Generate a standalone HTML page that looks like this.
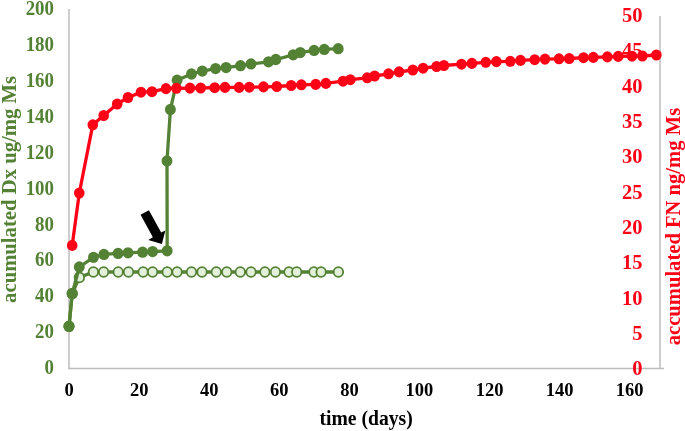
<!DOCTYPE html>
<html><head><meta charset="utf-8"><style>
html,body{margin:0;padding:0;background:#fff;}
svg{display:block;will-change:transform;}
text{font-family:"Liberation Serif",serif;font-weight:bold;}
</style></head><body>
<svg width="685" height="431" viewBox="0 0 685 431">
<rect width="685" height="431" fill="#fff"/>

<g fill="none">
<line x1="69" y1="9" x2="69" y2="368.4" stroke="#cbcbcb" stroke-width="1.9"/>
<line x1="660" y1="16" x2="660" y2="368.4" stroke="#cbcbcb" stroke-width="1.9"/>
<line x1="68.05" y1="368.45" x2="664" y2="368.45" stroke="#bdbdbd" stroke-width="1.6"/>
</g>
<g fill="#548235" font-size="20" text-anchor="end">
<text transform="translate(54.0,374.10) scale(0.945,1)">0</text>
<text transform="translate(54.0,338.20) scale(0.945,1)">20</text>
<text transform="translate(54.0,302.30) scale(0.945,1)">40</text>
<text transform="translate(54.0,266.40) scale(0.945,1)">60</text>
<text transform="translate(54.0,230.50) scale(0.945,1)">80</text>
<text transform="translate(54.0,194.60) scale(0.945,1)">100</text>
<text transform="translate(54.0,158.70) scale(0.945,1)">120</text>
<text transform="translate(54.0,122.80) scale(0.945,1)">140</text>
<text transform="translate(54.0,86.90) scale(0.945,1)">160</text>
<text transform="translate(54.0,51.00) scale(0.945,1)">180</text>
<text transform="translate(54.0,15.10) scale(0.945,1)">200</text>
</g>
<g fill="#000" font-size="19.6" text-anchor="middle">
<text transform="translate(69.15,396.45) scale(0.945,1)">0</text>
<text transform="translate(139.21,396.45) scale(0.945,1)">20</text>
<text transform="translate(209.27,396.45) scale(0.945,1)">40</text>
<text transform="translate(279.33,396.45) scale(0.945,1)">60</text>
<text transform="translate(349.39,396.45) scale(0.945,1)">80</text>
<text transform="translate(419.45,396.45) scale(0.945,1)">100</text>
<text transform="translate(489.51,396.45) scale(0.945,1)">120</text>
<text transform="translate(559.57,396.45) scale(0.945,1)">140</text>
<text transform="translate(629.63,396.45) scale(0.945,1)">160</text>
</g>
<text transform="translate(366.1,424.5) scale(0.955,1)" font-size="20.6" text-anchor="middle" fill="#000">time (days)</text>
<text transform="translate(16,189.4) rotate(-90)" font-size="20.7" text-anchor="middle" fill="#548235">acumulated Dx ug/mg Ms</text>
<text transform="translate(679.5,226.55) rotate(-90)" font-size="20.6" text-anchor="middle" fill="#ff0016">accumulated FN ng/mg Ms</text>
<polyline points="69.0,326.3 72.2,293.6 79.4,277.4 93.4,272.0 103.6,272.0 118.2,272.0 128.5,272.0 143.1,272.0 152.6,272.0 167.2,272.0 177.1,272.0 191.5,272.0 202.0,272.0 216.3,272.0 226.8,272.0 240.3,272.0 251.0,272.0 264.9,272.0 275.4,272.0 289.0,272.0 296.7,272.0 313.9,272.0 321.1,272.0 338.4,272.0" fill="none" stroke="#548235" stroke-width="3.3" stroke-linejoin="round"/>
<g fill="#e2f0d9" stroke="#548235" stroke-width="1.85">
<ellipse cx="69" cy="326.3" rx="4.75" ry="4.9"/>
<ellipse cx="72.2" cy="293.6" rx="4.75" ry="4.9"/>
<ellipse cx="79.4" cy="277.4" rx="4.75" ry="4.9"/>
<ellipse cx="93.4" cy="272.0" rx="4.75" ry="4.9"/>
<ellipse cx="103.6" cy="272.0" rx="4.75" ry="4.9"/>
<ellipse cx="118.2" cy="272.0" rx="4.75" ry="4.9"/>
<ellipse cx="128.5" cy="272.0" rx="4.75" ry="4.9"/>
<ellipse cx="143.1" cy="272.0" rx="4.75" ry="4.9"/>
<ellipse cx="152.6" cy="272.0" rx="4.75" ry="4.9"/>
<ellipse cx="167.2" cy="272.0" rx="4.75" ry="4.9"/>
<ellipse cx="177.1" cy="272.0" rx="4.75" ry="4.9"/>
<ellipse cx="191.5" cy="272.0" rx="4.75" ry="4.9"/>
<ellipse cx="202" cy="272.0" rx="4.75" ry="4.9"/>
<ellipse cx="216.3" cy="272.0" rx="4.75" ry="4.9"/>
<ellipse cx="226.8" cy="272.0" rx="4.75" ry="4.9"/>
<ellipse cx="240.3" cy="272.0" rx="4.75" ry="4.9"/>
<ellipse cx="251" cy="272.0" rx="4.75" ry="4.9"/>
<ellipse cx="264.9" cy="272.0" rx="4.75" ry="4.9"/>
<ellipse cx="275.4" cy="272.0" rx="4.75" ry="4.9"/>
<ellipse cx="289" cy="272.0" rx="4.75" ry="4.9"/>
<ellipse cx="296.7" cy="272.0" rx="4.75" ry="4.9"/>
<ellipse cx="313.9" cy="272.0" rx="4.75" ry="4.9"/>
<ellipse cx="321.1" cy="272.0" rx="4.75" ry="4.9"/>
<ellipse cx="338.4" cy="272.0" rx="4.75" ry="4.9"/>
</g>
<polyline points="69.0,326.3 72.2,293.6 79.3,267.0 93.5,257.3 103.9,254.4 118.1,253.4 128.0,252.8 142.6,252.2 152.6,251.6 167.2,250.8 167.0,161.0 170.4,109.5 177.1,80.2 191.5,74.0 202.3,71.1 215.6,68.6 226.1,67.6 240.5,65.7 251.0,63.9 268.5,61.8 275.8,59.5 293.2,54.8 300.3,52.6 314.1,50.4 324.3,49.4 338.2,48.7" fill="none" stroke="#548235" stroke-width="3.3" stroke-linejoin="round"/>
<g fill="#548235">
<ellipse cx="69" cy="326.3" rx="5.45" ry="5.65"/>
<ellipse cx="72.2" cy="293.6" rx="5.45" ry="5.65"/>
<ellipse cx="79.3" cy="267" rx="5.45" ry="5.65"/>
<ellipse cx="93.5" cy="257.3" rx="5.45" ry="5.65"/>
<ellipse cx="103.9" cy="254.4" rx="5.45" ry="5.65"/>
<ellipse cx="118.1" cy="253.4" rx="5.45" ry="5.65"/>
<ellipse cx="128" cy="252.8" rx="5.45" ry="5.65"/>
<ellipse cx="142.6" cy="252.2" rx="5.45" ry="5.65"/>
<ellipse cx="152.6" cy="251.6" rx="5.45" ry="5.65"/>
<ellipse cx="167.2" cy="250.8" rx="5.45" ry="5.65"/>
<ellipse cx="167" cy="161" rx="5.45" ry="5.65"/>
<ellipse cx="170.4" cy="109.5" rx="5.45" ry="5.65"/>
<ellipse cx="177.1" cy="80.2" rx="5.45" ry="5.65"/>
<ellipse cx="191.5" cy="74" rx="5.45" ry="5.65"/>
<ellipse cx="202.3" cy="71.1" rx="5.45" ry="5.65"/>
<ellipse cx="215.6" cy="68.6" rx="5.45" ry="5.65"/>
<ellipse cx="226.1" cy="67.6" rx="5.45" ry="5.65"/>
<ellipse cx="240.5" cy="65.7" rx="5.45" ry="5.65"/>
<ellipse cx="251" cy="63.9" rx="5.45" ry="5.65"/>
<ellipse cx="268.5" cy="61.8" rx="5.45" ry="5.65"/>
<ellipse cx="275.8" cy="59.5" rx="5.45" ry="5.65"/>
<ellipse cx="293.2" cy="54.8" rx="5.45" ry="5.65"/>
<ellipse cx="300.3" cy="52.6" rx="5.45" ry="5.65"/>
<ellipse cx="314.1" cy="50.4" rx="5.45" ry="5.65"/>
<ellipse cx="324.3" cy="49.4" rx="5.45" ry="5.65"/>
<ellipse cx="338.2" cy="48.7" rx="5.45" ry="5.65"/>
</g>
<polyline points="72.2,245.4 79.3,193.0 92.8,124.8 103.7,115.5 117.2,104.0 128.0,97.5 141.0,92.2 152.0,91.7 166.0,88.6 176.4,88.3 190.0,88.1 200.7,88.0 214.7,87.7 225.0,87.4 239.1,87.4 249.3,87.2 263.5,86.9 276.8,86.5 291.2,85.5 301.4,84.8 315.7,84.4 325.9,83.4 343.0,81.2 350.3,79.7 367.2,77.8 374.6,76.0 388.5,73.8 399.1,71.9 412.8,70.0 423.1,68.2 436.6,66.5 443.9,65.5 461.5,64.2 471.9,63.4 485.8,62.3 496.4,61.6 510.3,61.3 520.5,60.4 534.7,59.7 545.0,59.1 559.0,58.8 569.2,58.5 583.5,57.7 593.3,57.4 607.4,56.9 618.2,56.4 632.0,56.2 642.4,56.0 656.4,55.0" fill="none" stroke="#ff0016" stroke-width="3.3" stroke-linejoin="round"/>
<g fill="#ff0016">
<ellipse cx="72.2" cy="245.4" rx="5.3" ry="5.55"/>
<ellipse cx="79.3" cy="193" rx="5.3" ry="5.55"/>
<ellipse cx="92.8" cy="124.8" rx="5.3" ry="5.55"/>
<ellipse cx="103.7" cy="115.5" rx="5.3" ry="5.55"/>
<ellipse cx="117.2" cy="104.0" rx="5.3" ry="5.55"/>
<ellipse cx="128.0" cy="97.5" rx="5.3" ry="5.55"/>
<ellipse cx="141.0" cy="92.2" rx="5.3" ry="5.55"/>
<ellipse cx="152" cy="91.7" rx="5.3" ry="5.55"/>
<ellipse cx="166" cy="88.6" rx="5.3" ry="5.55"/>
<ellipse cx="176.4" cy="88.3" rx="5.3" ry="5.55"/>
<ellipse cx="190" cy="88.1" rx="5.3" ry="5.55"/>
<ellipse cx="200.7" cy="88" rx="5.3" ry="5.55"/>
<ellipse cx="214.7" cy="87.7" rx="5.3" ry="5.55"/>
<ellipse cx="225" cy="87.4" rx="5.3" ry="5.55"/>
<ellipse cx="239.1" cy="87.4" rx="5.3" ry="5.55"/>
<ellipse cx="249.3" cy="87.2" rx="5.3" ry="5.55"/>
<ellipse cx="263.5" cy="86.9" rx="5.3" ry="5.55"/>
<ellipse cx="276.8" cy="86.5" rx="5.3" ry="5.55"/>
<ellipse cx="291.2" cy="85.5" rx="5.3" ry="5.55"/>
<ellipse cx="301.4" cy="84.8" rx="5.3" ry="5.55"/>
<ellipse cx="315.7" cy="84.4" rx="5.3" ry="5.55"/>
<ellipse cx="325.9" cy="83.4" rx="5.3" ry="5.55"/>
<ellipse cx="343" cy="81.2" rx="5.3" ry="5.55"/>
<ellipse cx="350.3" cy="79.7" rx="5.3" ry="5.55"/>
<ellipse cx="367.2" cy="77.8" rx="5.3" ry="5.55"/>
<ellipse cx="374.6" cy="76" rx="5.3" ry="5.55"/>
<ellipse cx="388.5" cy="73.8" rx="5.3" ry="5.55"/>
<ellipse cx="399.1" cy="71.9" rx="5.3" ry="5.55"/>
<ellipse cx="412.8" cy="70" rx="5.3" ry="5.55"/>
<ellipse cx="423.1" cy="68.2" rx="5.3" ry="5.55"/>
<ellipse cx="436.6" cy="66.5" rx="5.3" ry="5.55"/>
<ellipse cx="443.9" cy="65.5" rx="5.3" ry="5.55"/>
<ellipse cx="461.5" cy="64.2" rx="5.3" ry="5.55"/>
<ellipse cx="471.9" cy="63.4" rx="5.3" ry="5.55"/>
<ellipse cx="485.8" cy="62.3" rx="5.3" ry="5.55"/>
<ellipse cx="496.4" cy="61.6" rx="5.3" ry="5.55"/>
<ellipse cx="510.3" cy="61.3" rx="5.3" ry="5.55"/>
<ellipse cx="520.5" cy="60.4" rx="5.3" ry="5.55"/>
<ellipse cx="534.7" cy="59.7" rx="5.3" ry="5.55"/>
<ellipse cx="545" cy="59.1" rx="5.3" ry="5.55"/>
<ellipse cx="559" cy="58.8" rx="5.3" ry="5.55"/>
<ellipse cx="569.2" cy="58.5" rx="5.3" ry="5.55"/>
<ellipse cx="583.5" cy="57.7" rx="5.3" ry="5.55"/>
<ellipse cx="593.3" cy="57.4" rx="5.3" ry="5.55"/>
<ellipse cx="607.4" cy="56.9" rx="5.3" ry="5.55"/>
<ellipse cx="618.2" cy="56.4" rx="5.3" ry="5.55"/>
<ellipse cx="632" cy="56.2" rx="5.3" ry="5.55"/>
<ellipse cx="642.4" cy="56" rx="5.3" ry="5.55"/>
<ellipse cx="656.4" cy="55" rx="5.3" ry="5.55"/>
</g>
<g fill="#ff0016" font-size="20.5" text-anchor="end">
<text x="642.6" y="375.35">0</text>
<text x="642.6" y="340.00">5</text>
<text x="642.6" y="304.65">10</text>
<text x="642.6" y="269.30">15</text>
<text x="642.6" y="233.95">20</text>
<text x="642.6" y="198.60">25</text>
<text x="642.6" y="163.25">30</text>
<text x="642.6" y="127.90">35</text>
<text x="642.6" y="92.55">40</text>
<text x="642.6" y="57.20">45</text>
<text x="642.6" y="21.85">50</text>
</g>
<polygon points="140.57,214.84 148.91,210.20 161.20,232.58 165.38,230.38 161.9,244.0 148.3,239.9 152.86,237.22" fill="#000"/>
</svg></body></html>
